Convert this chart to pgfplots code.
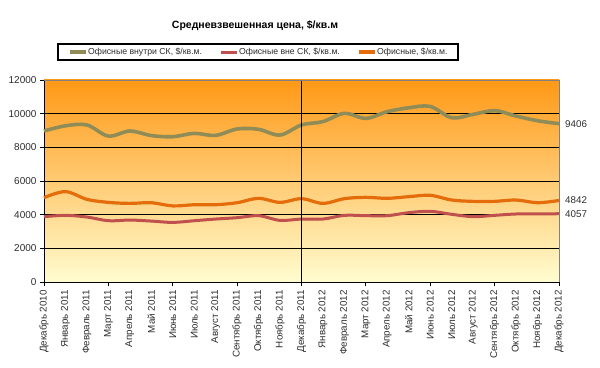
\documentclass[border=0pt]{standalone}
\usepackage{fontspec}
\setmainfont{Liberation Sans}
\usepackage{pgfplots}
\pgfplotsset{compat=1.18}
\definecolor{olivec}{RGB}{143,140,88}
\definecolor{redc}{RGB}{192,80,77}
\definecolor{orangec}{RGB}{228,108,10}
\definecolor{txt}{RGB}{45,45,45}
\definecolor{bgtop}{RGB}{255,152,22}
\definecolor{bgmid}{RGB}{253,206,140}
\definecolor{bgbot}{RGB}{255,253,208}
\begin{document}
\begin{tikzpicture}
\useasboundingbox (0,0) rectangle (600bp,368bp);
\begin{axis}[
  at={(44bp,86bp)}, anchor=south west,
  scale only axis, width=515bp, height=202bp,
  xmin=0, xmax=24, ymin=0, ymax=12000,
  clip=false,
  axis background/.style={top color=bgtop, middle color=bgmid, bottom color=bgbot},
  xtick={0,3,...,24},
  xticklabels={},
  extra x ticks={0,...,24},
  extra x tick labels={Декабрь 2010,Январь 2011,Февраль 2011,Март 2011,Апрель 2011,Май 2011,Июнь 2011,Июль 2011,Август 2011,Сентябрь 2011,Октябрь 2011,Ноябрь 2011,Декабрь 2011,Январь 2012,Февраль 2012,Март 2012,Апрель 2012,Май 2012,Июнь 2012,Июль 2012,Август 2012,Сентябрь 2012,Октябрь 2012,Ноябрь 2012,Декабрь 2012},
  extra x tick style={major tick length=0pt, grid=none},
  xticklabel shift=7bp,
  x tick label style={rotate=90, anchor=east, font=\fontsize{9.8bp}{11bp}\selectfont, text=txt, inner sep=1bp},
  major tick length=4bp,
  tick align=outside,
  ytick={0,2000,...,12000},
  scaled y ticks=false,
  y tick label style={font=\fontsize{10bp}{12bp}\selectfont, text=txt},
  /pgf/number format/assume math mode=true,
  /pgf/number format/1000 sep={},
  ymajorgrids, grid style={black, line width=0.9bp},
  axis x line*=bottom, axis y line*=left,
  axis line style={black, line width=0.9bp},
  every tick/.style={black, line width=0.8bp},
  legend columns=3,
  legend style={at={(0.4155,1.1386)}, anchor=center, draw=black, line width=1.2bp,
    font=\fontsize{8.7bp}{10bp}\selectfont, text=txt, inner xsep=10bp, inner ysep=2bp,
    nodes={inner xsep=0.5bp},
    /tikz/every even column/.append style={column sep=17bp}},
  legend image code/.code={\draw[#1, line cap=butt] (0bp,0bp) -- (16bp,0bp);},
]
\addplot[olivec, line width=3.6bp, smooth, tension=0.55] coordinates {
(0,8970) (1,9280) (2,9330) (3,8670) (4,8970) (5,8700) (6,8630) (7,8830) (8,8710) (9,9090) (10,9070) (11,8730) (12,9330) (13,9530) (14,10020) (15,9720) (16,10120) (17,10350) (18,10430) (19,9760) (20,9960) (21,10180) (22,9860) (23,9580) (24,9406)};
\addlegendentry{Офисные внутри СК, \$/кв.м.}
\addplot[redc, line width=3bp, smooth, tension=0.55] coordinates {
(0,3880) (1,3960) (2,3860) (3,3640) (4,3680) (5,3620) (6,3540) (7,3640) (8,3740) (9,3820) (10,3940) (11,3660) (12,3740) (13,3740) (14,3960) (15,3940) (16,3940) (17,4120) (18,4200) (19,4020) (20,3880) (21,3960) (22,4040) (23,4040) (24,4057)};
\addlegendentry{Офисные вне СК, \$/кв.м.}
\addplot[orangec, line width=3.2bp, smooth, tension=0.55] coordinates {
(0,5010) (1,5370) (2,4910) (3,4730) (4,4670) (5,4710) (6,4520) (7,4590) (8,4590) (9,4710) (10,4970) (11,4730) (12,4950) (13,4670) (14,4950) (15,5030) (16,4970) (17,5070) (18,5150) (19,4870) (20,4790) (21,4790) (22,4870) (23,4710) (24,4842)};
\addlegendentry{Офисные, \$/кв.м.}
\draw[black, line width=1.2bp] (axis cs:12,0) -- (axis cs:12,12000);
\draw[gray, line width=0.9bp] (axis cs:0,12000) -- (axis cs:24,12000) -- (axis cs:24,0);
\node[anchor=west, font=\fontsize{9.8bp}{11bp}\selectfont, text=txt, inner sep=0pt] at ([xshift=6bp]axis cs:24,9406) {9406};
\node[anchor=west, font=\fontsize{9.8bp}{11bp}\selectfont, text=txt, inner sep=0pt] at ([xshift=6bp]axis cs:24,4842) {4842};
\node[anchor=west, font=\fontsize{9.8bp}{11bp}\selectfont, text=txt, inner sep=0pt] at ([xshift=6bp]axis cs:24,4057) {4057};
\end{axis}
\node[font=\bfseries\fontsize{10.5bp}{12bp}\selectfont] at (255bp,342bp) {Средневзвешенная цена, \$/кв.м};
\end{tikzpicture}
\end{document}
